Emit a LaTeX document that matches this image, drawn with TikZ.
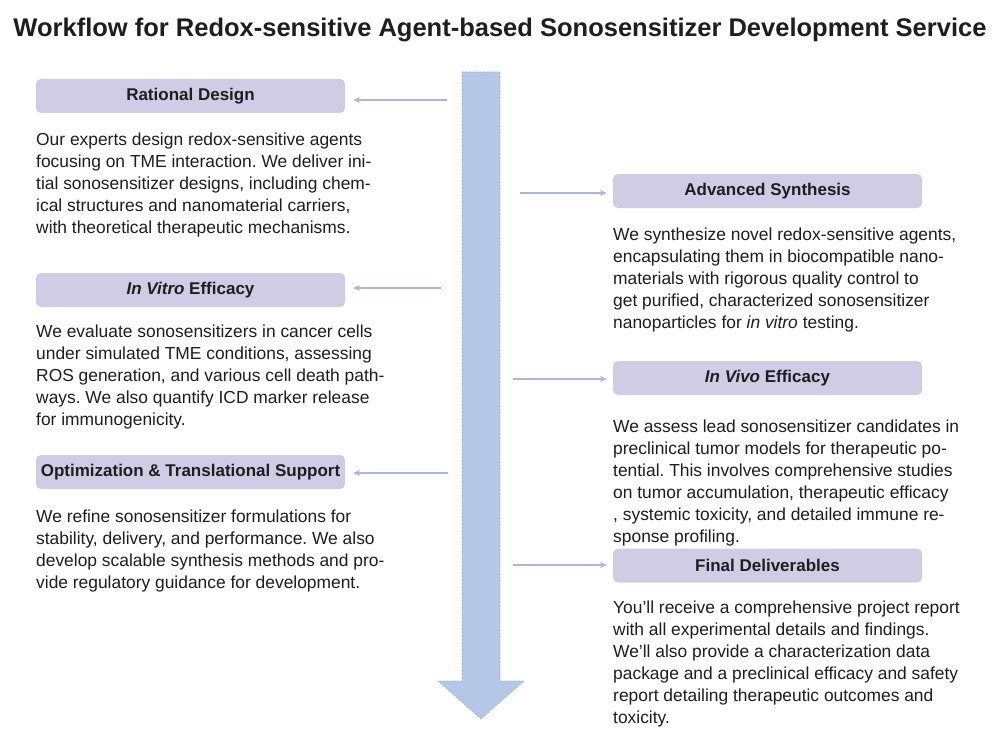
\documentclass[tikz,border=0pt]{standalone}
\usepackage{fontspec}
\setmainfont{Liberation Sans}
\usetikzlibrary{arrows.meta}
\definecolor{boxc}{HTML}{D1CCE6}
\definecolor{flowc}{HTML}{B4C7E7}
\definecolor{flowd}{HTML}{9DB4DE}
\definecolor{connc}{HTML}{A9B9DE}
\definecolor{txt}{HTML}{1E1E1E}
\frenchspacing
\begin{document}
\begin{tikzpicture}[x=1pt,y=-1pt,
  headbox/.style={fill=boxc, rounded corners=5pt, minimum width=309pt, minimum height=34pt, inner sep=0pt, font=\fontsize{17}{20}\selectfont\bfseries, text=txt},
  bodytext/.style={anchor=base west, align=left, inner sep=0pt, font=\fontsize{17.4}{22}\selectfont, text=txt},
  conn/.style={draw=connc, line width=1.4pt, -{Stealth[length=7pt,width=6pt]}}]
\useasboundingbox (0,0) rectangle (1000,741);
\fill[white] (0,0) rectangle (1000,741);
\node[font=\fontsize{25.5}{30}\selectfont\bfseries, anchor=base, inner sep=0pt, text=txt] (title) at (500,37) {Workflow for Redox-sensitive Agent-based Sonosensitizer Development Service};
% big flow arrow
\draw[flowd, fill=flowc, dash pattern=on 2pt off 1.5pt, line width=0.6pt] (462,72) -- (500,72) -- (500,681) -- (524,681) -- (481,719) -- (438,681) -- (462,681) -- cycle;
\coordinate (flow) at (481,72);
% tails
\coordinate (t1) at (447,100);
\coordinate (t2) at (441,288);
\coordinate (t3) at (448,473);
\coordinate (t4) at (520,193);
\coordinate (t5) at (513,379);
\coordinate (t6) at (513,565);
% left column (base anchor = baseline of the last line)
\node[headbox] (rd) at (190.5,96) {Rational Design};
\node[bodytext] (rdt) at (36,233) {Our experts design redox-sensitive agents\\focusing on TME interaction. We deliver ini-\\tial sonosensitizer designs, including chem-\\ical structures and nanomaterial carriers,\\with theoretical therapeutic mechanisms.};
\node[headbox] (iv) at (190.5,290) {\textit{In Vitro} Efficacy};
\node[bodytext] (ivt) at (36,425) {We evaluate sonosensitizers in cancer cells\\under simulated TME conditions, assessing\\ROS generation, and various cell death path-\\ways. We also quantify ICD marker release\\for immunogenicity.};
\node[headbox] (op) at (190.5,472) {Optimization \& Translational Support};
\node[bodytext] (opt) at (36,588) {We refine sonosensitizer formulations for\\stability, delivery, and performance. We also\\develop scalable synthesis methods and pro-\\vide regulatory guidance for development.};
% right column
\node[headbox] (as) at (767.5,191) {Advanced Synthesis};
\node[bodytext] (ast) at (613,328) {We synthesize novel redox-sensitive agents,\\encapsulating them in biocompatible nano-\\materials with rigorous quality control to\\get purified, characterized sonosensitizer\\nanoparticles for \textit{in vitro} testing.};
\node[headbox] (vv) at (767.5,378) {\textit{In Vivo} Efficacy};
\node[bodytext] (vvt) at (613,542) {We assess lead sonosensitizer candidates in\\preclinical tumor models for therapeutic po-\\tential. This involves comprehensive studies\\on tumor accumulation, therapeutic efficacy\\, systemic toxicity, and detailed immune re-\\sponse profiling.};
\node[headbox] (fd) at (767.5,565.5) {Final Deliverables};
\node[bodytext] (fdt) at (613,723) {You'll receive a comprehensive project report\\with all experimental details and findings.\\We'll also provide a characterization data\\package and a preclinical efficacy and safety\\report detailing therapeutic outcomes and\\toxicity.};
% connectors
\draw[conn] (t1) -- ([xshift=8pt]t1 -| rd.east);
\draw[conn] (t2) -- ([xshift=8pt]t2 -| iv.east);
\draw[conn] (t3) -- ([xshift=8pt]t3 -| op.east);
\draw[conn] (t4) -- ([xshift=-6pt]t4 -| as.west);
\draw[conn] (t5) -- ([xshift=-6pt]t5 -| vv.west);
\draw[conn] (t6) -- ([xshift=-6pt]t6 -| fd.west);
\end{tikzpicture}
\end{document}
